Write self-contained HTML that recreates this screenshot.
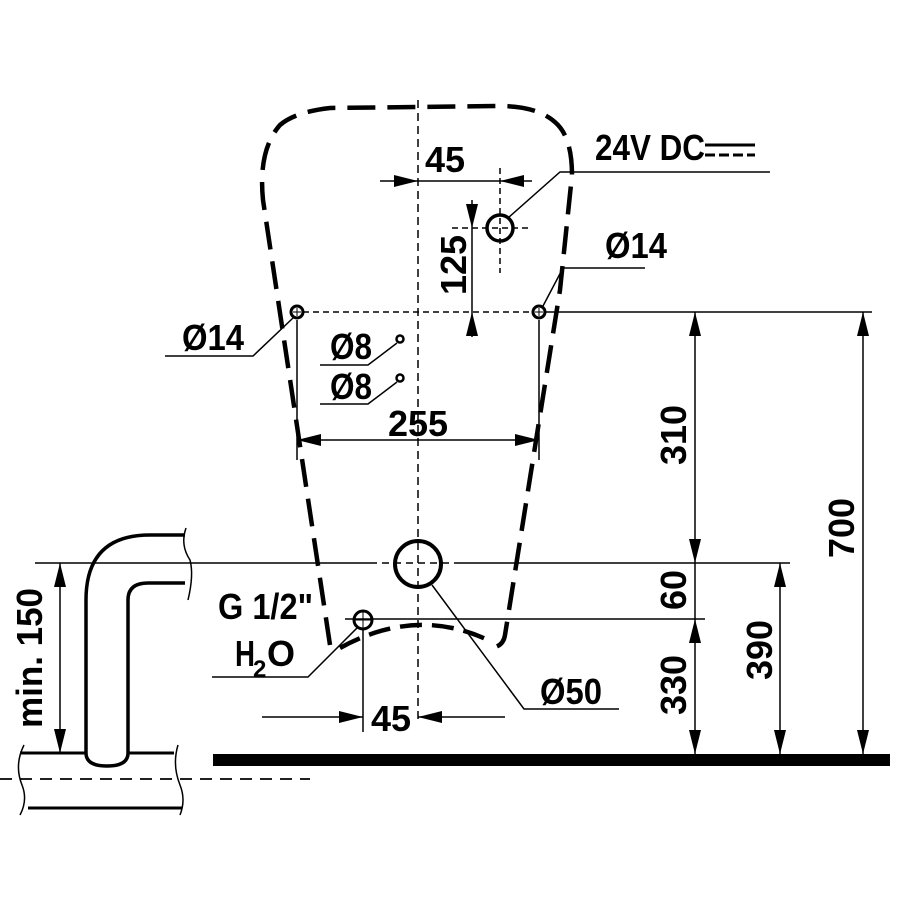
<!DOCTYPE html>
<html><head><meta charset="utf-8"><style>
html,body{margin:0;padding:0;background:#fff}
svg{display:block}
text{font-family:"Liberation Sans Narrow","Liberation Sans",sans-serif;font-weight:bold;fill:#000}
</style></head><body>
<svg width="900" height="900" viewBox="0 0 900 900" xmlns="http://www.w3.org/2000/svg">
<defs>
<marker id="a" viewBox="0 0 24 12" refX="24" refY="6" markerWidth="24" markerHeight="12" markerUnits="userSpaceOnUse" orient="auto-start-reverse">
<path d="M0,0 L24,6 L0,12 Z" fill="#000"/></marker>
</defs>
<g fill="none" stroke="#000">
<!-- outline -->
<path d="M330,645 L263,200 Q258,150 280,125 Q295,112 330,108 L500,106 Q540,106 558,125 Q572,140 572,175 L560,290 L505,635 Q503,648 488,648" stroke-width="4.5" stroke-dasharray="28,12"/>
<path d="M340,648 Q418,605 492,642" stroke-width="4.5" stroke-dasharray="22,10"/>
<!-- centre line -->
<line x1="418" y1="100" x2="418" y2="720" stroke-width="1.5" stroke-dasharray="8,5"/>
<!-- hole row -->
<line x1="303" y1="312" x2="533" y2="312" stroke-width="1.5" stroke-dasharray="6,4"/>
<line x1="545" y1="312" x2="872" y2="312" stroke-width="1.5"/>
<circle cx="297" cy="312" r="6" stroke-width="3"/>
<circle cx="539" cy="312" r="6" stroke-width="3"/>
<path d="M293,312h8M297,308v8M535,312h8M539,308v8" stroke-width="1"/>
<!-- 24V hole -->
<circle cx="500" cy="228" r="13" stroke-width="3.5"/>
<path d="M452,228h80M500,168v105" stroke-width="1.5" stroke-dasharray="6,4"/>
<!-- 45 top -->
<line x1="380" y1="181" x2="418" y2="181" stroke-width="1.5" marker-end="url(#a)"/>
<line x1="418" y1="181" x2="500" y2="181" stroke-width="1.5"/>
<line x1="532" y1="181" x2="500" y2="181" stroke-width="1.5" marker-end="url(#a)"/>
<!-- 125 -->
<line x1="472" y1="200" x2="472" y2="228" stroke-width="1.5" marker-end="url(#a)"/>
<line x1="472" y1="228" x2="472" y2="312" stroke-width="1.5"/>
<line x1="472" y1="337" x2="472" y2="312" stroke-width="1.5" marker-end="url(#a)"/>
<!-- 24V leader -->
<path d="M508,218 L560,172 L770,172" stroke-width="1.5"/>
<path d="M705,145h50" stroke-width="3"/>
<path d="M705,155h50" stroke-width="3" stroke-dasharray="10,4"/>
<!-- Ø14 leaders -->
<path d="M543,306 L563,268 L645,268" stroke-width="1.5"/>
<path d="M293,318 L253,356 L165,356" stroke-width="1.5"/>
<!-- Ø8 -->
<circle cx="400" cy="339" r="3.5" stroke-width="2.5"/>
<circle cx="400" cy="378" r="3.5" stroke-width="2.5"/>
<path d="M397,343 L368,365 L320,365M397,382 L368,404 L320,404" stroke-width="1.5"/>
<!-- 255 -->
<path d="M297,320v140M539,320v140" stroke-width="1.5"/>
<line x1="380" y1="440" x2="297" y2="440" stroke-width="1.5" marker-end="url(#a)"/>
<line x1="380" y1="440" x2="539" y2="440" stroke-width="1.5" marker-end="url(#a)"/>
<!-- Ø50 -->
<circle cx="418" cy="564" r="23" stroke-width="4"/>
<line x1="35" y1="563" x2="370" y2="563" stroke-width="1.5"/>
<line x1="370" y1="563" x2="460" y2="563" stroke-width="1.5" stroke-dasharray="7,5"/>
<line x1="460" y1="563" x2="790" y2="563" stroke-width="1.5"/>
<path d="M432,585 L524,709 L619,709" stroke-width="1.5"/>
<!-- G1/2 -->
<circle cx="363" cy="620" r="9" stroke-width="3"/>
<path d="M355,620h16M363,612v16" stroke-width="1"/>
<line x1="345" y1="619" x2="705" y2="619" stroke-width="1.5"/>
<path d="M357,628 L308,677 L212,677" stroke-width="1.5"/>
<!-- 45 bottom -->
<line x1="363" y1="630" x2="363" y2="732" stroke-width="1.5"/>
<line x1="262" y1="717" x2="363" y2="717" stroke-width="1.5" marker-end="url(#a)"/>
<line x1="505" y1="717" x2="418" y2="717" stroke-width="1.5" marker-end="url(#a)"/>
<!-- floor -->
<rect x="213" y="754" width="677" height="12" fill="#000" stroke="none"/>
<!-- right dims -->
<line x1="695" y1="440" x2="695" y2="312" stroke-width="1.5" marker-end="url(#a)"/>
<line x1="695" y1="440" x2="695" y2="563" stroke-width="1.5" marker-end="url(#a)"/>
<line x1="695" y1="563" x2="695" y2="619" stroke-width="1.5"/>
<line x1="695" y1="690" x2="695" y2="619" stroke-width="1.5" marker-end="url(#a)"/>
<line x1="695" y1="690" x2="695" y2="754" stroke-width="1.5" marker-end="url(#a)"/>
<line x1="780" y1="660" x2="780" y2="563" stroke-width="1.5" marker-end="url(#a)"/>
<line x1="780" y1="660" x2="780" y2="754" stroke-width="1.5" marker-end="url(#a)"/>
<line x1="863" y1="530" x2="863" y2="312" stroke-width="1.5" marker-end="url(#a)"/>
<line x1="863" y1="530" x2="863" y2="754" stroke-width="1.5" marker-end="url(#a)"/>
<!-- pipe -->
<path d="M86,753 L86,600 Q86,535 150,535 L185,535" stroke-width="3.5"/>
<path d="M128,753 L128,600 Q128,583 148,583 L185,583" stroke-width="3.5"/>
<path d="M86,753 Q86,766 107,766 Q128,766 128,753" stroke-width="3.5"/>
<path d="M186,528 Q180,545 190,560 Q194,575 188,600" stroke-width="1.5"/>
<path d="M20,753 L86,753M128,753 L174,753M28,808 L182,808" stroke-width="3"/>
<path d="M24,745 Q14,765 22,785 Q28,800 20,815M178,745 Q172,765 180,785 Q186,800 180,815" stroke-width="1.5"/>
<line x1="0" y1="779" x2="310" y2="779" stroke-width="1.8" stroke-dasharray="12,8"/>
<line x1="60" y1="650" x2="60" y2="563" stroke-width="1.5" marker-end="url(#a)"/>
<line x1="60" y1="650" x2="60" y2="753" stroke-width="1.5" marker-end="url(#a)"/>
</g>
<g font-size="36">
<text x="445" y="172" text-anchor="middle">45</text>
<text x="595" y="160" textLength="110" lengthAdjust="spacingAndGlyphs">24V DC</text>
<text x="605" y="258" textLength="62" lengthAdjust="spacingAndGlyphs">Ø14</text>
<text x="182" y="350" textLength="62" lengthAdjust="spacingAndGlyphs">Ø14</text>
<text x="330" y="359" textLength="42" lengthAdjust="spacingAndGlyphs">Ø8</text>
<text x="330" y="399" textLength="42" lengthAdjust="spacingAndGlyphs">Ø8</text>
<text x="418" y="436" text-anchor="middle">255</text>
<text x="540" y="704" textLength="62" lengthAdjust="spacingAndGlyphs">Ø50</text>
<text x="218" y="619" textLength="95" lengthAdjust="spacingAndGlyphs">G 1/2"</text>
<text x="235" y="666" textLength="20" lengthAdjust="spacingAndGlyphs">H</text>
<text x="253" y="677" font-size="24">2</text>
<text x="267" y="666">O</text>
<text x="391" y="731" text-anchor="middle">45</text>
<text transform="translate(466,265) rotate(-90)" text-anchor="middle">125</text>
<text transform="translate(686,435) rotate(-90)" text-anchor="middle">310</text>
<text transform="translate(686,590) rotate(-90)" text-anchor="middle">60</text>
<text transform="translate(686,685) rotate(-90)" text-anchor="middle">330</text>
<text transform="translate(772,650) rotate(-90)" text-anchor="middle">390</text>
<text transform="translate(854,528) rotate(-90)" text-anchor="middle">700</text>
<text transform="translate(42,658) rotate(-90)" text-anchor="middle" textLength="140" lengthAdjust="spacingAndGlyphs">min. 150</text>
</g>
</svg>
</body></html>
